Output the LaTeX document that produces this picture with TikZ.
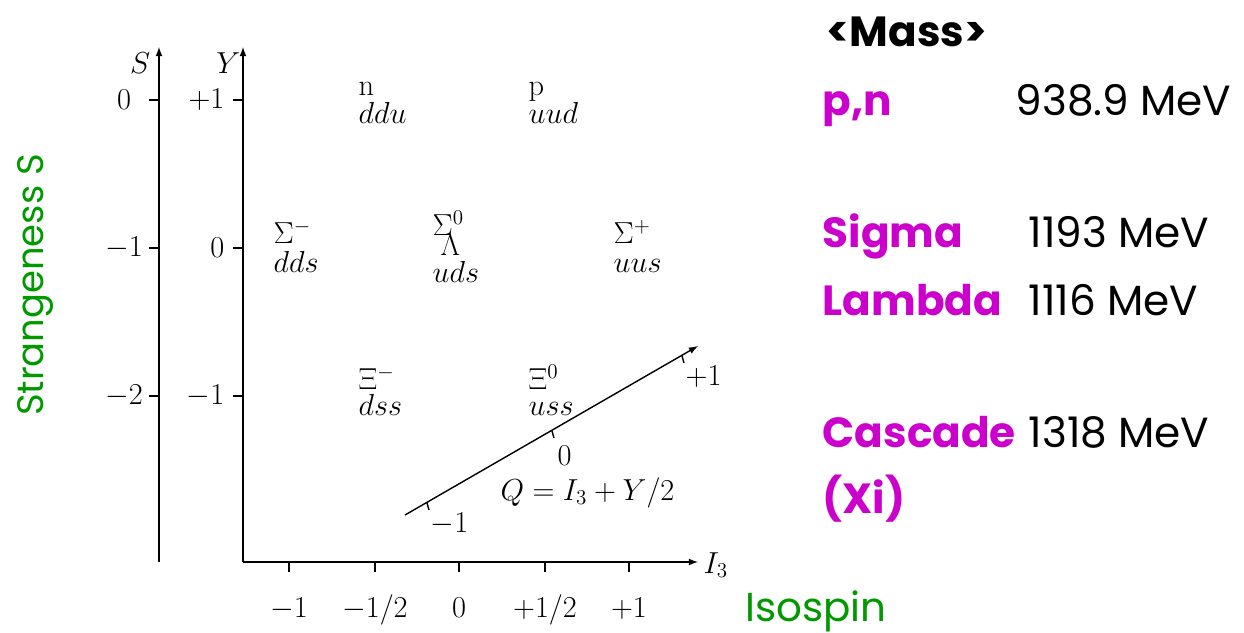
\documentclass[tikz,border=0pt]{standalone}
\usepackage{amsmath}
\usepackage{fontspec}
\usepackage{xcolor}
\newfontfamily\comicfont{Poppins}
\definecolor{massmag}{RGB}{204,0,204}
\definecolor{labelgreen}{RGB}{0,153,0}
\setlength{\lineskiplimit}{-20pt}

\tikzset{
  hadron/.style={anchor=base west, align=left, inner sep=0pt, font=\fontsize{17.3}{14.2}\selectfont},
  ticklabel/.style={inner sep=0pt, font=\fontsize{17.3}{20}\selectfont},
  massname/.style={anchor=base west, inner sep=0pt, text=massmag, font=\comicfont\bfseries\fontsize{24}{28}\selectfont},
  massval/.style={anchor=base west, inner sep=0pt, font=\comicfont\fontsize{24}{28}\selectfont},
  axisname/.style={anchor=base, inner sep=0pt, text=labelgreen, font=\comicfont\fontsize{23}{27}\selectfont},
}

\begin{document}
\begin{tikzpicture}[x=0.2mm, y=-0.2mm, >=latex, line width=0.8pt]
  \useasboundingbox (0,0) rectangle (1244,633);

  % axes
  \coordinate (sbot) at (159,562);
  \coordinate (stop) at (159,47);
  \coordinate (origin) at (243,562);
  \coordinate (ytop) at (243,47);
  \coordinate (iend) at (698,562);
  \draw[->] (sbot) -- (stop);
  \draw[->] (origin) -- (ytop);
  \draw[->] (origin) -- (iend);

  \node[ticklabel, anchor=base east] (slabel) at (151,73) {$S$};
  \node[ticklabel, anchor=base east] (ylabel) at (241,73) {$Y$};
  \node[ticklabel, anchor=base west] (ilabel) at (703,573) {$I_3$};

  \foreach \y/\s/\h in {100/0/+1, 248/-1/0, 396/-2/-1} {
    \draw (149,\y) -- (159,\y);
    \draw (233,\y) -- (243,\y);
    \node[ticklabel] at (124,\y) {$\s$};
    \node[ticklabel, anchor=east] at (225,\y) {$\h$};
  }
  \foreach \x/\t in {289/{-1}, 375/{-1/2}, 459/{0}, 545/{+1/2}, 629/{+1}} {
    \draw (\x,562) -- (\x,572);
    \node[ticklabel, anchor=base] at (\x,617) {$\t$};
  }

  % baryons
  \node[hadron] (n) at (358,123) {n\\[1.7pt]$ddu$};
  \node[hadron] (p) at (528,123) {p\\[1.7pt]$uud$};
  \node[hadron] (sigmam) at (273,272) {$\Sigma^-$\\[2.2pt]$dds$};
  \node[hadron] (sigma0) at (432,282) {$\Sigma^0$\\[-2.9pt]\hspace{4.5pt}$\Lambda$\\[1.1pt]$uds$};
  \node[hadron] (sigmap) at (613,272) {$\Sigma^+$\\[2.2pt]$uus$};
  \node[hadron] (xim) at (358,415) {$\Xi^-$\\[0.5pt]$dss$};
  \node[hadron] (xi0) at (528,415) {$\Xi^0$\\[0.5pt]$uss$};

  % charge axis
  \coordinate (qstart) at (405,515);
  \coordinate (qend) at (698,346);
  \draw[->] (qstart) -- (qend);
  \draw (427,503) -- ++(2,7);
  \draw (552,431) -- ++(2,7);
  \draw (682,356) -- ++(2,7);
  \node[ticklabel, anchor=base west] (qm) at (430,532) {$-1$};
  \node[ticklabel, anchor=base west] (qz) at (557,465) {$0$};
  \node[ticklabel, anchor=base west] (qp) at (685,385) {$+1$};
  \node[ticklabel, anchor=base west] (qrule) at (500,500) {$Q=I_3+Y/2$};

  % masses
  \node[anchor=base west, inner sep=0pt, font=\comicfont\bfseries\fontsize{24}{28}\selectfont] (masstitle) at (826,46) {<Mass>};
  \node[massname] (pn) at (822,115) {p,n};
  \node[massval] (pnmass) at (1015,115) {938.9 MeV};
  \node[massname] (sigma) at (822,247) {Sigma};
  \node[massval] (sigmamass) at (1028,247) {1193 MeV};
  \node[massname] (lambda) at (822,315) {Lambda};
  \node[massval] (lambdamass) at (1028,315) {1116 MeV};
  \node[massname] (cascade) at (822,447) {Cascade};
  \node[massval] (cascademass) at (1028,447) {1318 MeV};
  \node[massname] (xi) at (822,513) {(Xi)};

  \node[axisname] (isospin) at (816,621) {Isospin};
  \node[axisname, rotate=90, font=\comicfont\fontsize{21}{25}\selectfont] (strangeness) at (43,285) {Strangeness S};
\end{tikzpicture}
\end{document}
